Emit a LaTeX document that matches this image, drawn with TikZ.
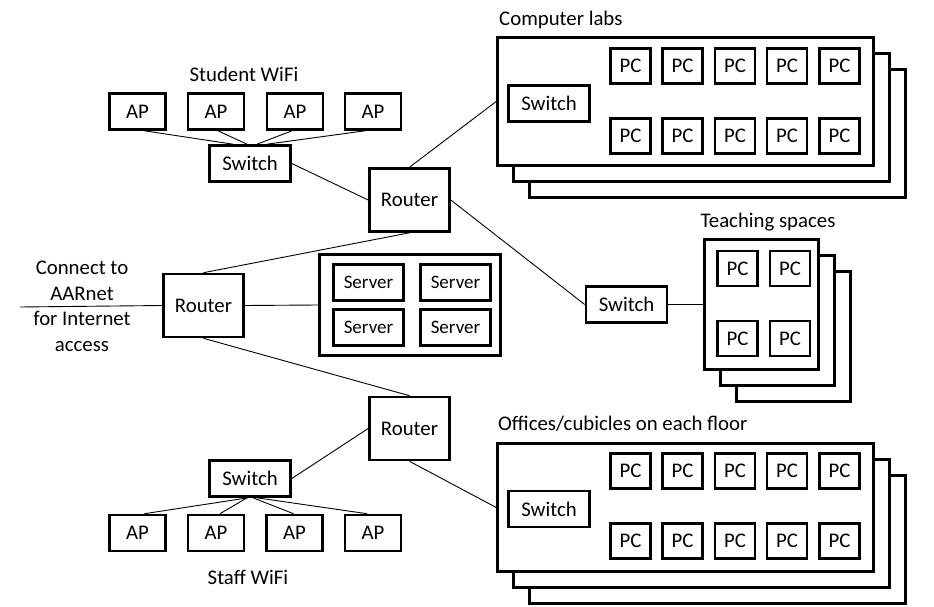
\documentclass[tikz,border=0pt]{standalone}
\usepackage{fontspec}
\setmainfont{Carlito}
\begin{document}
\begin{tikzpicture}[x=1pt,y=-1pt,
  box/.style={draw, line width=2.6pt, fill=white, inner sep=0pt, font=\fontsize{20.8}{24}\selectfont},
  apbox/.style={box, minimum width=56pt, minimum height=36pt},
  swbox/.style={box, minimum width=81pt, minimum height=36pt},
  rtbox/.style={box, minimum width=80pt, minimum height=63pt},
  srvbox/.style={box, minimum width=70pt, minimum height=36pt, font=\fontsize{19}{22}\selectfont},
  pcbox/.style={box, minimum width=40pt, minimum height=35pt},
  panel/.style={draw, line width=2.6pt, fill=white},
  lbl/.style={inner sep=0pt, font=\fontsize{20.8}{24}\selectfont},
  wire/.style={draw, line width=0.9pt}
]
\useasboundingbox[fill=white] (0,0) rectangle (934,607);

% ---------- Student WiFi ----------
\node[lbl] (swifi) at (244,74) {Student WiFi};
\node[apbox] (ap1) at (137.5,111.5) {AP};
\node[apbox] (ap2) at (216,111.5) {AP};
\node[apbox] (ap3) at (295,111.5) {AP};
\node[apbox] (ap4) at (373,111.5) {AP};
\node[swbox] (sw1) at (250,163.5) {Switch};

% ---------- Routers ----------
\node[rtbox] (r1) at (409.5,200) {Router};
\node[rtbox] (r2) at (203.5,305.5) {Router};
\node[rtbox] (r3) at (409.5,428.5) {Router};

% ---------- Internet ----------
\node[lbl, align=center, font=\fontsize{20.8}{25.5}\selectfont] (inet) at (82,306.5) {Connect to\\AARnet\\for Internet\\access};
\coordinate (inetend) at (20,307);

% ---------- Servers ----------
\node[box, minimum width=181pt, minimum height=101pt] (srv) at (410,305) {};
\node[srvbox] (s1) at (368.5,282.5) {Server};
\node[srvbox] (s2) at (455.5,282.5) {Server};
\node[srvbox] (s3) at (368.5,327.5) {Server};
\node[srvbox] (s4) at (455.5,327.5) {Server};

% ---------- Computer labs ----------
\node[lbl, anchor=west] (labl) at (499,20) {Computer labs};
\draw[panel] (529.5,69.5) rectangle (905.5,197.5);
\draw[panel] (513.5,53.5) rectangle (889.5,181.5);
\node[box, minimum width=376pt, minimum height=128pt] (lab) at (685.5,101.5) {};
\node[swbox] (labsw) at (549,103.5) {Switch};
\foreach \i/\x in {1/630.5,2/682.5,3/735,4/787,5/839.5}{
  \node[pcbox] (labpa\i) at (\x,66) {PC};
  \node[pcbox] (labpb\i) at (\x,136) {PC};
}

% ---------- Teaching spaces ----------
\node[lbl] (teachl) at (768,222) {Teaching spaces};
\draw[panel] (736.5,271.5) rectangle (850.5,401.5);
\draw[panel] (720.5,255.5) rectangle (834.5,385.5);
\node[box, minimum width=114pt, minimum height=130pt] (teach) at (761.5,304.5) {};
\node[pcbox] (tpc1) at (737.5,268.5) {PC};
\node[pcbox] (tpc2) at (790,268.5) {PC};
\node[pcbox] (tpc3) at (737.5,338.5) {PC};
\node[pcbox] (tpc4) at (790,338.5) {PC};
\node[swbox] (tsw) at (626.5,304.5) {Switch};

% ---------- Offices ----------
\node[lbl, anchor=west] (offl) at (498,424) {Offices/cubicles on each floor};
\draw[panel] (529.5,475.5) rectangle (905.5,603.5);
\draw[panel] (513.5,459.5) rectangle (889.5,587.5);
\node[box, minimum width=376pt, minimum height=128pt] (off) at (685.5,507.5) {};
\node[swbox] (offsw) at (549,509) {Switch};
\foreach \i/\x in {1/630.5,2/682.5,3/735,4/787,5/839.5}{
  \node[pcbox] (offpa\i) at (\x,471) {PC};
  \node[pcbox] (offpb\i) at (\x,541) {PC};
}

% ---------- Staff WiFi ----------
\node[swbox] (sw2) at (250,478.5) {Switch};
\node[apbox] (bap1) at (137.5,533) {AP};
\node[apbox] (bap2) at (216,533) {AP};
\node[apbox] (bap3) at (294.5,533) {AP};
\node[apbox] (bap4) at (373,533) {AP};
\node[lbl] (fwifi) at (248,577) {Staff WiFi};

% ---------- Connectors ----------
\path[wire] ([xshift=7pt]ap1.south) -- ([xshift=-17pt]sw1.north);
\path[wire] ([xshift=2pt]ap2.south) -- ([xshift=-3pt]sw1.north);
\path[wire] ([xshift=-3pt]ap3.south) -- ([xshift=7pt]sw1.north);
\path[wire] ([xshift=-8pt]ap4.south) -- ([xshift=17pt]sw1.north);
\path[wire] (sw1.east) -- (r1.west);
\path[wire] (r1.north) -- (lab.west);
\path[wire] (r1.east) -- (tsw.west);
\path[wire] (tsw.east) -- (teach.west);
\path[wire] (r1.south) -- (r2.north);
\path[wire] (inetend) -- (r2.west);
\path[wire] (r2.east) -- (srv.west);
\path[wire] (r2.south) -- (r3.north);
\path[wire] (r3.west) -- (sw2.east);
\path[wire] (r3.south) -- (off.west);
\path[wire] ([xshift=-2pt]sw2.south) -- ([xshift=7pt]bap1.north);
\path[wire] ([xshift=-3pt]sw2.south) -- ([xshift=4pt]bap2.north);
\path[wire] ([xshift=3pt]sw2.south) -- ([xshift=-1pt]bap3.north);
\path[wire] ([xshift=7pt]sw2.south) -- ([xshift=-6pt]bap4.north);
\end{tikzpicture}
\end{document}
